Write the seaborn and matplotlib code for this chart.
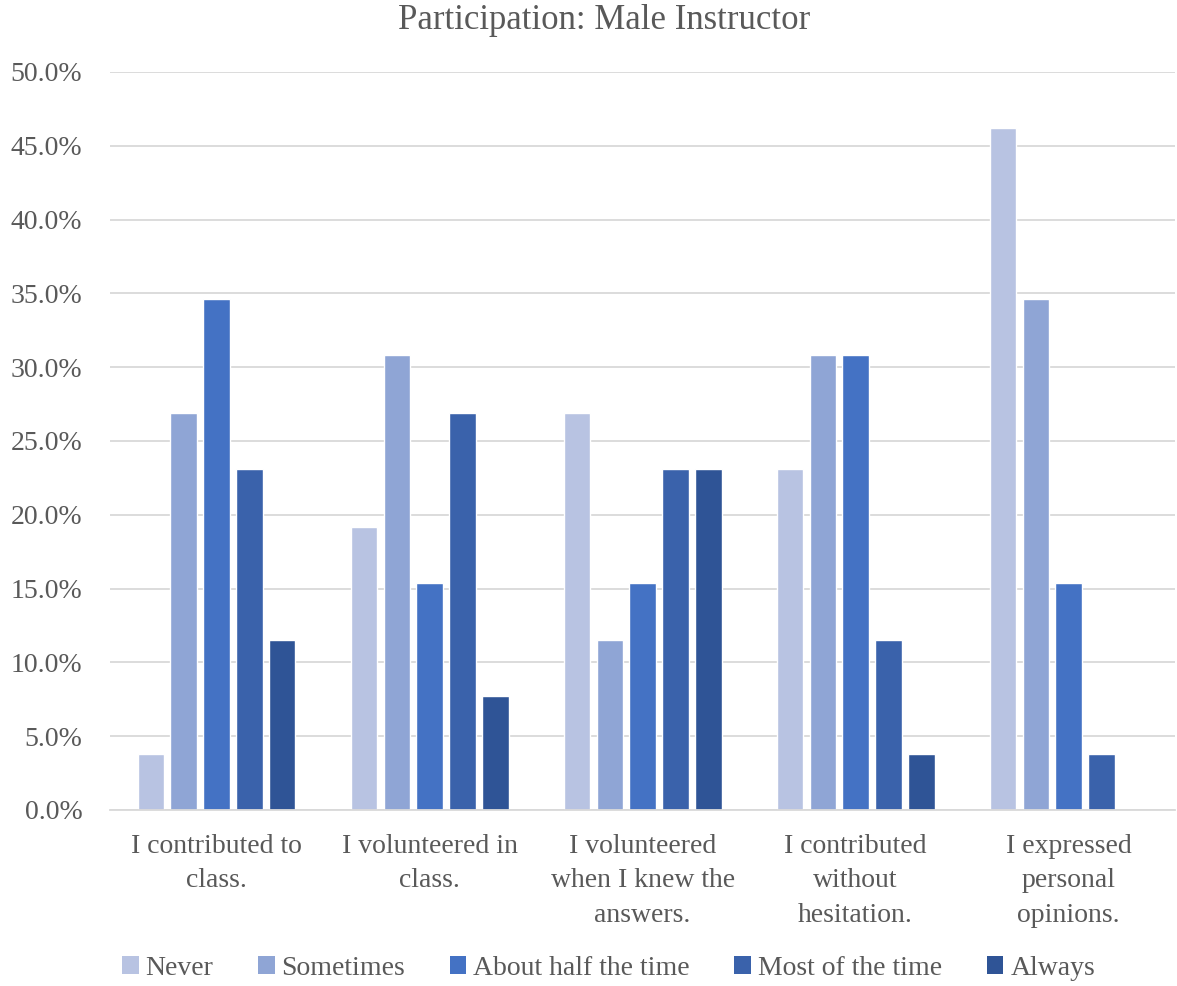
import matplotlib
matplotlib.use("Agg")
import matplotlib.pyplot as plt
import seaborn as sns
import pandas as pd
from matplotlib.ticker import PercentFormatter, MultipleLocator

categories = [
    "I contributed to\nclass.",
    "I volunteered in\nclass.",
    "I volunteered\nwhen I knew the\nanswers.",
    "I contributed\nwithout\nhesitation.",
    "I expressed\npersonal\nopinions.",
]
responses = ["Never", "Sometimes", "About half the time", "Most of the time", "Always"]

never = [3.8, 19.2, 26.9, 23.1, 46.2]
sometimes = [26.9, 30.8, 11.5, 30.8, 34.6]
about_half = [34.6, 15.4, 15.4, 30.8, 15.4]
most = [23.1, 26.9, 23.1, 11.5, 3.8]
always = [11.5, 7.7, 23.1, 3.8, 0.0]

colors = ["#B8C3E2", "#8FA5D5", "#4472C4", "#3A62AB", "#2F5496"]

series = [never, sometimes, about_half, most, always]
rows = []
for resp, vals in zip(responses, series):
    for cat, v in zip(categories, vals):
        rows.append({"Item": cat, "Response": resp, "Percent": v})
df = pd.DataFrame(rows)

sns.set_theme(style="white")
plt.rcParams["font.family"] = ["Liberation Serif", "DejaVu Serif"]
text_color = "#595959"

fig = plt.figure(figsize=(11.77, 9.86), dpi=100)
ax = fig.add_axes([0.0935, 0.1785, 0.905, 0.7485])

sns.barplot(
    data=df, x="Item", y="Percent", hue="Response",
    order=categories, hue_order=responses, palette=colors,
    saturation=1, width=0.77, gap=0.19,
    edgecolor="white", linewidth=1.0, ax=ax,
)

ax.set_ylim(0, 50)
ax.set_xlim(-0.5, len(categories) - 0.5)
ax.yaxis.set_major_locator(MultipleLocator(5))
ax.yaxis.set_major_formatter(PercentFormatter(decimals=1))
ax.grid(axis="y", color="#D9D9D9", linewidth=1.3)
ax.set_axisbelow(True)
for side in ["top", "right", "left"]:
    ax.spines[side].set_visible(False)
ax.spines["bottom"].set_color("#D9D9D9")
ax.spines["bottom"].set_linewidth(1.3)
ax.tick_params(axis="both", length=0, labelsize=20, colors=text_color)
ax.tick_params(axis="y", pad=20)
ax.tick_params(axis="x", pad=17)
for lbl in ax.get_xticklabels():
    lbl.set_linespacing(1.5)
ax.set_xlabel("")
ax.set_ylabel("")

fig.text(0.513, 0.979, "Participation: Male Instructor", fontsize=25,
         color=text_color, ha="center", va="center")

ax.legend_.remove()
handles = [plt.Rectangle((0, 0), 1, 1, facecolor=c, edgecolor="none") for c in colors]
fig.legend(
    handles, responses, loc="center", bbox_to_anchor=(0.517, 0.018),
    ncol=5, frameon=False, fontsize=20, handlelength=0.6, handleheight=0.6,
    handletextpad=0.25, columnspacing=1.6, labelcolor=text_color,
)

fig.savefig("out.png", dpi=100)
